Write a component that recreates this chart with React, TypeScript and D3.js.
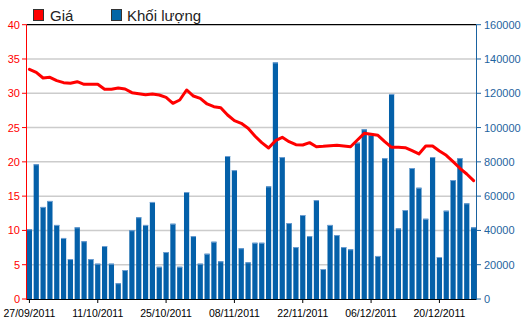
import React from 'react';
import * as d3 from 'd3';

// trading days shown on the chart
const dates = [
  '27/09/2011', '28/09/2011', '29/09/2011', '30/09/2011',
  '03/10/2011', '04/10/2011', '05/10/2011', '06/10/2011', '07/10/2011',
  '10/10/2011', '11/10/2011', '12/10/2011', '13/10/2011', '14/10/2011',
  '17/10/2011', '18/10/2011', '19/10/2011', '20/10/2011', '21/10/2011',
  '24/10/2011', '25/10/2011', '26/10/2011', '27/10/2011', '28/10/2011',
  '31/10/2011', '01/11/2011', '02/11/2011', '03/11/2011', '04/11/2011',
  '07/11/2011', '08/11/2011', '09/11/2011', '10/11/2011', '11/11/2011',
  '14/11/2011', '15/11/2011', '16/11/2011', '17/11/2011', '18/11/2011',
  '21/11/2011', '22/11/2011', '23/11/2011', '24/11/2011', '25/11/2011',
  '28/11/2011', '29/11/2011', '30/11/2011', '01/12/2011', '02/12/2011',
  '05/12/2011', '06/12/2011', '07/12/2011', '08/12/2011', '09/12/2011',
  '12/12/2011', '13/12/2011', '14/12/2011', '15/12/2011', '16/12/2011',
  '19/12/2011', '20/12/2011', '21/12/2011', '22/12/2011', '23/12/2011',
  '26/12/2011', '27/12/2011',
];

// Khối lượng (right axis)
const volume = [
  40700, 78600, 53700, 57200, 43200, 35600, 23300, 41800, 33700, 23300,
  20600, 30900, 20600, 9200, 16900, 40100, 47700, 43200, 56600, 18800,
  27400, 43900, 18800, 62400, 36700, 20600, 26400, 33400, 22000, 83400,
  75200, 29600, 21400, 32800, 32800, 65700, 138000, 82800, 44300, 30300,
  49000, 36700, 57700, 17500, 43200, 37300, 30300, 29000, 91200, 99000,
  95700, 25100, 82200, 119600, 41200, 51900, 76400, 64900, 46800, 82800,
  24500, 51500, 69400, 82200, 55800, 41800,
];

// Giá (left axis)
const price = [
  33.5, 33.06, 32.23, 32.33, 31.84, 31.55, 31.45, 31.69, 31.31, 31.31,
  31.31, 30.58, 30.58, 30.77, 30.63, 30.09, 29.94, 29.8, 29.9, 29.75,
  29.41, 28.54, 29.02, 30.48, 29.6, 29.26, 28.44, 28.05, 27.9, 26.83,
  26.0, 25.62, 24.89, 23.77, 22.8, 22.02, 23.09, 23.58, 22.94, 22.5,
  22.46, 22.8, 22.21, 22.26, 22.36, 22.41, 22.31, 22.21, 23.19, 24.16,
  24.01, 23.87, 22.94, 22.12, 22.12, 22.07, 21.63, 21.15, 22.31, 22.31,
  21.58, 20.95, 20.03, 19.06, 18.23, 17.26,
];

const priceTicks = [0, 5, 10, 15, 20, 25, 30, 35, 40];
const volumeTicks = [0, 20000, 40000, 60000, 80000, 100000, 120000, 140000, 160000];
const dateTicks = ['27/09/2011', '11/10/2011', '25/10/2011', '08/11/2011', '22/11/2011', '06/12/2011', '20/12/2011'];

const W = 531;
const H = 321;
const left = 27;
const right = 476;
const top = 24.7;
const bottom = 299;
const font = '"Liberation Sans", Arial, sans-serif';

export default function App() {
  const x = d3.scaleBand<string>()
    .domain(dates)
    .range([26, 477])
    .paddingInner(0.24)
    .paddingOuter(0.12);
  const yL = d3.scaleLinear().domain([0, 40]).range([bottom, top]);
  const yR = d3.scaleLinear().domain([0, 160000]).range([bottom, top]);
  const cx = (d: string) => (x(d) ?? 0) + x.bandwidth() / 2;

  const line = d3.line<number>()
    .x((_, i) => cx(dates[i]))
    .y(d => yL(d));

  return (
    <svg width={W} height={H} style={{ position: 'absolute', left: 0, top: 0, background: '#fff' }}
      fontFamily={font}>
      {/* gridlines */}
      {priceTicks.slice(1, -1).map(t => (
        <line key={t} x1={left} x2={right} y1={yL(t)} y2={yL(t)} stroke="#cccccc" strokeWidth={1.5} />
      ))}

      {/* volume bars */}
      {volume.map((v, i) => (
        <g key={i}>
          <rect x={x(dates[i])} y={yR(v)} width={x.bandwidth()} height={bottom - yR(v)} fill="#0460a9" />
          <rect x={x(dates[i])} y={yR(v)} width={x.bandwidth()} height={1} fill="#6f9fd2" />
        </g>
      ))}

      {/* price line */}
      <path d={line(price) ?? ''} fill="none" stroke="#ff0000" strokeWidth={3}
        strokeLinejoin="round" strokeLinecap="round" />

      {/* frame */}
      <line x1={left} x2={right} y1={top} y2={top} stroke="#000" strokeWidth={1.2} />
      <line x1={left} x2={right} y1={bottom + 0.5} y2={bottom + 0.5} stroke="#000" strokeWidth={1} />
      <line x1={left - 0.5} x2={left - 0.5} y1={top} y2={bottom + 1} stroke="#ff0000" strokeWidth={1} />
      <line x1={right + 0.5} x2={right + 0.5} y1={top} y2={bottom + 1} stroke="#1a62a0" strokeWidth={1} />

      {/* left axis */}
      {priceTicks.map(t => (
        <g key={t}>
          <line x1={left - 5} x2={left} y1={yL(t)} y2={yL(t)} stroke="#ff0000" />
          <text x={20} y={yL(t) + 4} textAnchor="end" fontSize={11} fill="#ff0000">{t}</text>
        </g>
      ))}

      {/* right axis */}
      {volumeTicks.map(t => (
        <g key={t}>
          <line x1={right} x2={right + 5} y1={yR(t)} y2={yR(t)} stroke="#1a62a0" />
          <text x={484} y={yR(t) + 4} fontSize={11} fill="#1f64a0">{t}</text>
        </g>
      ))}

      {/* bottom axis */}
      {dateTicks.map(d => (
        <g key={d}>
          <line x1={cx(d)} x2={cx(d)} y1={bottom} y2={bottom + 4} stroke="#000" />
          <text x={cx(d)} y={317} textAnchor="middle" fontSize={10.5} fill="#000">{d}</text>
        </g>
      ))}

      {/* legend */}
      <rect x={33.5} y={9.5} width={10} height={11} fill="#ff0000" stroke="#333" />
      <text x={50} y={21} fontSize={15} fill="#222">Giá</text>
      <rect x={111.5} y={9.5} width={10} height={11} fill="#0466a6" stroke="#333" />
      <text x={127} y={21} fontSize={15} fill="#222">Khối lượng</text>
    </svg>
  );
}
